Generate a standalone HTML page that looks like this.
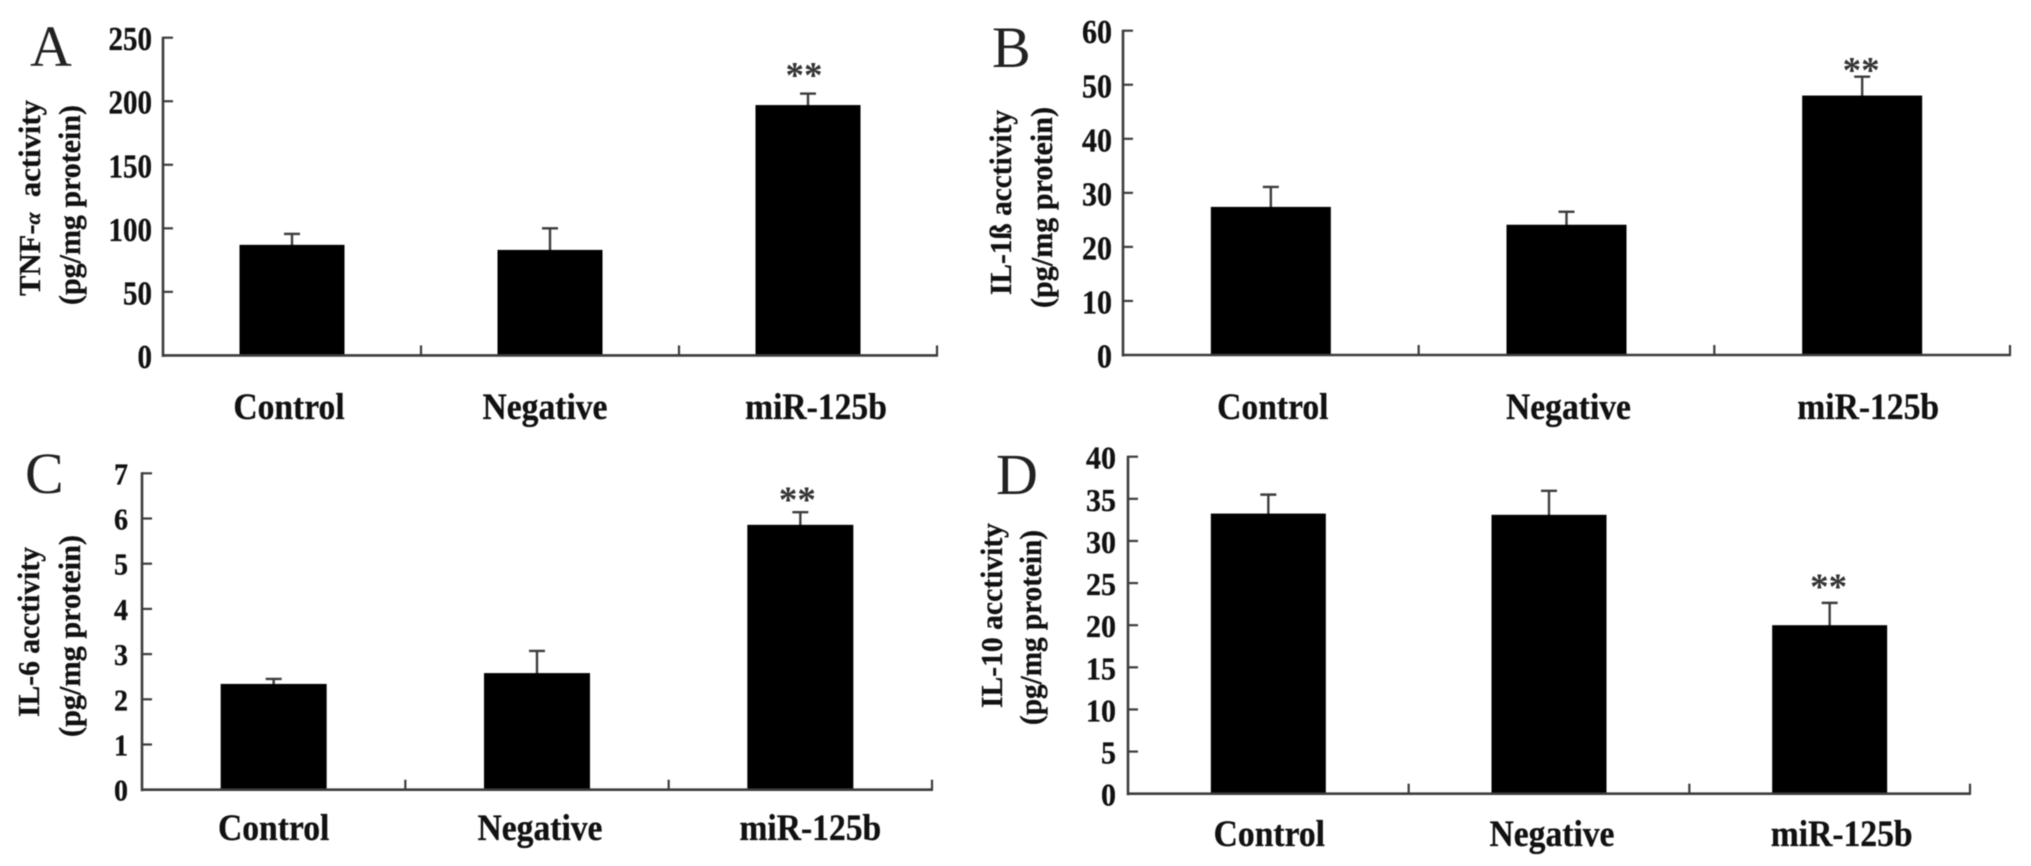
<!DOCTYPE html>
<html lang="en">
<head>
<meta charset="utf-8">
<title>Cytokine activity bar charts</title>
<style>
  html, body { margin: 0; padding: 0; background: #fff; }
  body { width: 2031px; height: 866px; overflow: hidden; }
  svg { display: block; filter: blur(0.5px); }
  text { font-family: "Liberation Serif", serif; font-weight: 700; fill: #111; stroke: #111; stroke-width: 0.3px; }
  .letter { font-weight: 400; fill: #222; stroke: none; }
  .stars { fill: #333; stroke: none; }
</style>
</head>
<body>
<svg id="figure" xmlns="http://www.w3.org/2000/svg" width="2031" height="866" viewBox="0 0 2031 866"></svg>
<script>
const categories = ['Control', 'Negative', 'miR-125b'];

const valuesA = [87, 83, 197];
const errorTopsA = [95.6, 100, 206];
const ticksA = [0, 50, 100, 150, 200, 250];
const significantA = [false, false, true];

const valuesB = [27.4, 24.1, 48];
const errorTopsB = [31.1, 26.5, 51.5];
const ticksB = [0, 10, 20, 30, 40, 50, 60];
const significantB = [false, false, true];

const valuesC = [2.34, 2.58, 5.86];
const errorTopsC = [2.45, 3.07, 6.14];
const ticksC = [0, 1, 2, 3, 4, 5, 6, 7];
const significantC = [false, false, true];

const valuesD = [33.25, 33.1, 20];
const errorTopsD = [35.5, 35.95, 22.65];
const ticksD = [0, 5, 10, 15, 20, 25, 30, 35, 40];
const significantD = [false, false, true];

const SVG_NS = 'http://www.w3.org/2000/svg';
const figure = document.getElementById('figure');

function make(parent, tag, attrs, content) {
  const el = document.createElementNS(SVG_NS, tag);
  for (const key in attrs) el.setAttribute(key, attrs[key]);
  if (content !== undefined) el.textContent = content;
  parent.appendChild(el);
  return el;
}

function line(parent, x1, y1, x2, y2, width) {
  return make(parent, 'line', { x1, y1, x2, y2, stroke: '#3c3c3c', 'stroke-width': width });
}

function drawPanel(cfg) {
  const g = make(figure, 'g', {});
  
  

  const maxTick = cfg.ticks[cfg.ticks.length - 1];
  const yScale = v => cfg.y0 - (v / maxTick) * (cfg.y0 - cfg.yTop);
  const band = (cfg.xEnd - cfg.x0) / cfg.categories.length;
  const xCenter = i => cfg.x0 + band * (i + 0.5);

  const letter = make(g, 'text', { class: 'letter', x: cfg.letterX, y: cfg.letterY, 'font-size': 58 }, cfg.id);
  
  

  // bars first, so axes sit over their base
  cfg.values.forEach((v, i) => {
    const cx = xCenter(i);
    const top = yScale(v);
    const errY = yScale(cfg.errorTops[i]);

    const stem = line(g, cx, top + 1, cx, errY, 2.4);
    
    

    const cap = line(g, cx - 8, errY, cx + 8, errY, 2.4);
    
    

    const bar = make(g, 'rect', { x: cx - cfg.barW / 2, y: top, width: cfg.barW, height: cfg.y0 - top, fill: '#000' });
    
    

    if (cfg.significant[i]) {
      const stars = make(g, 'text', { class: 'stars', x: cx + cfg.starDx, y: errY - cfg.starGap + 17, 'font-size': 37, 'text-anchor': 'middle' }, '**');
      
      
    }

    const label = make(g, 'text', {
      transform: 'translate(' + (cx + cfg.labelDx[i]) + ',' + cfg.labelY + ') scale(1,1.1)',
      'font-size': 33.6,
      'text-anchor': 'middle'
    }, cfg.categories[i]);
    
    
  });

  const yAxis = line(g, cfg.x0, cfg.yTop - 1, cfg.x0, cfg.y0 + 1.5, 2.6);
  
  

  const xAxis = line(g, cfg.x0 - 1, cfg.y0, cfg.xEnd + 1, cfg.y0, 2.6);
  
  

  cfg.ticks.forEach(t => {
    const y = yScale(t);
    if (t !== 0) {
      const tick = line(g, cfg.x0, y, cfg.x0 + 10, y, 2.2);
      
      
    }
    const baseline = y + cfg.tickBase;
    const lab = make(g, 'text', {
      transform: 'translate(' + cfg.tickRight + ',' + baseline + ') scale(1,' + cfg.tickSy + ')',
      'font-size': cfg.tickFont,
      'text-anchor': 'end'
    }, String(t));
    
    
  });

  for (let i = 1; i <= cfg.categories.length; i++) {
    const x = cfg.x0 + band * i;
    const tick = line(g, x, cfg.y0, x, cfg.y0 - 10, 2.2);
    
    
  }

  const t1 = make(g, 'text', {
    transform: 'translate(' + cfg.title1.x + ',' + cfg.title1.bottom + ') rotate(-90)',
    'font-size': 31,
    textLength: cfg.title1.len,
    lengthAdjust: 'spacingAndGlyphs'
  });
  
  
  cfg.title1.parts.forEach(p => {
    const span = make(t1, 'tspan', p.italic ? { 'font-style': 'italic', 'font-size': 22 } : {}, p.text);
    span.setAttribute('xml:space', 'preserve');
  });

  const t2 = make(g, 'text', {
    transform: 'translate(' + cfg.title2.x + ',' + cfg.title2.bottom + ') rotate(-90)',
    'font-size': 31,
    textLength: cfg.title2.len,
    lengthAdjust: 'spacingAndGlyphs'
  }, '(pg/mg protein)');
  
  
}

drawPanel({
  id: 'A', categories, values: valuesA, errorTops: errorTopsA, ticks: ticksA, significant: significantA,
  x0: 163, xEnd: 937, y0: 355.4, yTop: 37.7, barW: 105,
  letterX: 30, letterY: 66, labelY: 419, labelDx: [-3, -5, 8],
  tickRight: 152, tickFont: 29, tickSy: 1.16, tickBase: 12.5, starDx: -4, starGap: 23,
  title1: { x: 40, bottom: 296, len: 196, parts: [{ text: 'TNF-' }, { text: '\u03b1', italic: true }, { text: '\u00a0\u00a0activity' }] },
  title2: { x: 80, bottom: 305, len: 200 }
});

drawPanel({
  id: 'B', categories, values: valuesB, errorTops: errorTopsB, ticks: ticksB, significant: significantB,
  x0: 1123, xEnd: 2010, y0: 355, yTop: 30.7, barW: 120,
  letterX: 992, letterY: 67, labelY: 419, labelDx: [2, 2, 6],
  tickRight: 1112, tickFont: 30, tickSy: 1.14, tickBase: 12.5, starDx: -1, starGap: 11,
  title1: { x: 1011, bottom: 295, len: 185, parts: [{ text: 'IL-1\u00df acctivity' }] },
  title2: { x: 1052, bottom: 308, len: 201 }
});

drawPanel({
  id: 'C', categories, values: valuesC, errorTops: errorTopsC, ticks: ticksC, significant: significantC,
  x0: 142, xEnd: 932, y0: 789.7, yTop: 473.3, barW: 106,
  letterX: 25, letterY: 493, labelY: 840, labelDx: [0, 3, 10],
  tickRight: 128, tickFont: 28, tickSy: 1.1, tickBase: 11, starDx: -3, starGap: 17,
  title1: { x: 39, bottom: 717, len: 170, parts: [{ text: 'IL-6 acctivity' }] },
  title2: { x: 80, bottom: 737, len: 202 }
});

drawPanel({
  id: 'D', categories, values: valuesD, errorTops: errorTopsD, ticks: ticksD, significant: significantD,
  x0: 1128, xEnd: 1970, y0: 793.7, yTop: 456.7, barW: 115,
  letterX: 996, letterY: 494, labelY: 846, labelDx: [1, 3, 12],
  tickRight: 1116, tickFont: 30, tickSy: 1.06, tickBase: 12, starDx: -1, starGap: 21,
  title1: { x: 1002, bottom: 708, len: 185, parts: [{ text: 'IL-10 acctivity' }] },
  title2: { x: 1041, bottom: 725, len: 195 }
});
</script>
</body>
</html>
